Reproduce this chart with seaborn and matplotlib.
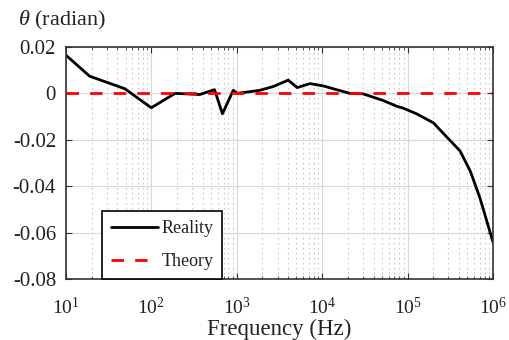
import numpy as np
import pandas as pd
import matplotlib
matplotlib.use("Agg")
import matplotlib.pyplot as plt
import seaborn as sns
from matplotlib.ticker import LogLocator, NullFormatter

# Values
freq = [10, 19, 49, 100, 190, 370, 550, 680, 910, 1020, 1850, 2700, 4000, 5100,
        7200, 10300, 14700, 21000, 30000, 51000, 74000, 89000, 127000, 200000,
        290000, 410000, 540000, 700000, 1000000]
reality = [0.0165, 0.0074, 0.0020, -0.0062, 0.0000, -0.0005, 0.0016, -0.0088,
           0.0013, 0.0000, 0.0013, 0.0030, 0.0057, 0.0025, 0.0042, 0.0032,
           0.0016, 0.0000, -0.0002, -0.0030, -0.0055, -0.0064, -0.0088, -0.0127,
           -0.0190, -0.0248, -0.0335, -0.0450, -0.0643]
theory_freq = [10, 1000000]
theory = [0.0, 0.0]
yticks = [-0.08, -0.06, -0.04, -0.02, 0, 0.02]
ytick_labels = ["-0.08", "-0.06", "-0.04", "-0.02", "0", "0.02"]

sns.set_style("ticks")
plt.rcParams['font.family'] = ['Liberation Serif', 'DejaVu Serif']
plt.rcParams['mathtext.fontset'] = 'custom'
plt.rcParams['mathtext.rm'] = 'Liberation Serif'
plt.rcParams['mathtext.it'] = 'Liberation Serif:italic'

df_real = pd.DataFrame({'freq': freq, 'theta': reality})
df_theory = pd.DataFrame({'freq': theory_freq, 'theta': theory})

fig = plt.figure(figsize=(5.1, 3.4), dpi=100)
ax = fig.add_axes([0.129, 0.179, 0.838, 0.683])

sns.lineplot(data=df_real, x='freq', y='theta', ax=ax, color='black',
             linewidth=2, label='Reality')
sns.lineplot(data=df_theory, x='freq', y='theta', ax=ax, color='red',
             linewidth=2, linestyle=(0, (4.5, 4)), label='Theory')

ax.set_xscale('log')
ax.set_xlim(10, 1e6)
ax.set_ylim(-0.08, 0.02)
ax.set_yticks(yticks)
ax.set_yticklabels(ytick_labels)
ax.xaxis.set_minor_locator(LogLocator(base=10, subs=np.arange(2, 10), numticks=20))
ax.xaxis.set_minor_formatter(NullFormatter())

ax.grid(True, which='major', color='#d9d9d9', linewidth=0.8)
ax.grid(True, which='minor', axis='x', color='#c8c8c8', linewidth=0.8,
        linestyle=(0, (1.5, 3)))
ax.set_axisbelow(True)

ax.tick_params(which='both', direction='in', top=True, right=True,
               color='#333333', labelcolor='#222222')
ax.tick_params(axis='x', which='major', pad=13, length=4, labelsize=14)
ax.tick_params(axis='x', which='minor', length=2)
ax.tick_params(axis='y', pad=7, length=4, labelsize=15)
for s in ax.spines.values():
    s.set_color('#333333')
    s.set_linewidth(1.2)

ax.set_xlabel('Frequency (Hz)', fontsize=16.5, labelpad=0, color='#222222')
ax.set_ylabel('')
fig.text(0.035, 0.94, r'$\theta$ (radian)', fontsize=16, va='center', ha='left',
         color='#222222')

leg = ax.legend(loc='lower left', bbox_to_anchor=(0.084, 0.0), fontsize=13,
                frameon=True, fancybox=False, edgecolor='black', framealpha=1,
                borderpad=0.5, handlelength=2.6, labelspacing=0.9,
                handletextpad=0.2, borderaxespad=0)
leg.get_frame().set_linewidth(1.2)
for t in leg.get_texts():
    t.set_color('#222222')

fig.savefig('out.png', dpi=100)
